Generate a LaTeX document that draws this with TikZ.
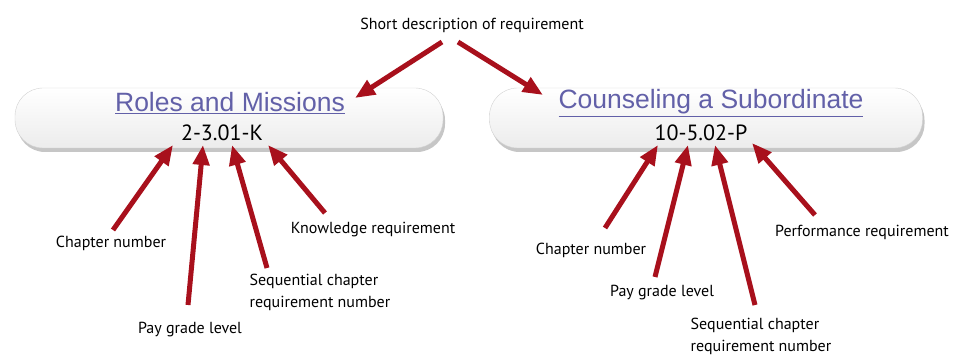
\documentclass[tikz,border=0pt]{standalone}
\usepackage{fontspec}
\setmainfont{Liberation Sans}
\newfontfamily\notefont{PT Sans}
\usetikzlibrary{positioning}
\usetikzlibrary{arrows.meta,shadows}
\definecolor{reqred}{RGB}{168,16,28}
\definecolor{linkblue}{RGB}{98,96,168}

\begin{document}
\begin{tikzpicture}[x=1pt,y=-1pt,
    pill/.style={draw=gray!35, rounded corners=28pt, top color=white,
                 bottom color=gray!15, minimum height=60pt,
                 drop shadow={shadow xshift=2pt, shadow yshift=-4pt, opacity=.45}},
    title/.style={text=linkblue, font=\fontsize{26.5}{30}\selectfont, inner sep=0pt},
    code/.style={font=\notefont\fontsize{22}{24}\selectfont, inner sep=0pt},
    note/.style={font=\notefont\fontsize{16}{22}\selectfont, align=left, inner sep=0pt},
    req/.style={draw=reqred, line width=5pt, -{Triangle[length=20pt,width=16pt]}}]
  \useasboundingbox (0,0) rectangle (954,358);

  % the two requirement boxes
  \node (pillL) [pill, minimum width=428pt] at (229,118) {};
  \node (pillR) [pill, minimum width=433pt] at (706,118) {};

  \node (titleL) [title] at (230,103) {\underline{Roles and Missions}};
  \node (codeL)  [code]  at (222,133) {2-3.01-K};
  \node (titleR) [title] at (711,103) {\underline{Counseling a Subordinate}};
  \node (codeR)  [code]  at (701,133) {10-5.02-P};

  % labels
  \node (desc)  [note] at (472,25)  {Short description of requirement};
  \node (chapL) [note] at (111,243) {Chapter number};
  \node (payL)  [note] at (190,330) {Pay grade level};
  \node (seqL)  [note] at (320,292) {Sequential chapter\\requirement number};
  \node (knowL) [note] at (373,230) {Knowledge requirement};
  \node (chapR) [note] at (591,250) {Chapter number};
  \node (payR)  [note] at (662,293) {Pay grade level};
  \node (seqR)  [note] at (761,336) {Sequential chapter\\requirement number};
  \node (perfR) [note] at (862,232) {Performance requirement};

  % arrow ends
  \coordinate (descA) at (442,42);  \coordinate (tipTL) at (355,98);
  \coordinate (descB) at (458,42);  \coordinate (tipTR) at (543,95);
  \coordinate (tailL1) at (113,230); \coordinate (tipL1) at (173,145);
  \coordinate (tailL2) at (188,305); \coordinate (tipL2) at (203,145);
  \coordinate (tailL3) at (267,268); \coordinate (tipL3) at (232,145);
  \coordinate (tailL4) at (325,213); \coordinate (tipL4) at (268,145);
  \coordinate (tailR1) at (605,228); \coordinate (tipR1) at (658,145);
  \coordinate (tailR2) at (655,277); \coordinate (tipR2) at (688,145);
  \coordinate (tailR3) at (755,305); \coordinate (tipR3) at (715,145);
  \coordinate (tailR4) at (815,215); \coordinate (tipR4) at (752,143);

  \draw[req] (descA) -- (tipTL);
  \draw[req] (descB) -- (tipTR);

  \foreach \x in {1,2,3,4} {
    \draw[req] (tailL\x) -- (tipL\x);
    \draw[req] (tailR\x) -- (tipR\x);
  }

\end{tikzpicture}
\end{document}
